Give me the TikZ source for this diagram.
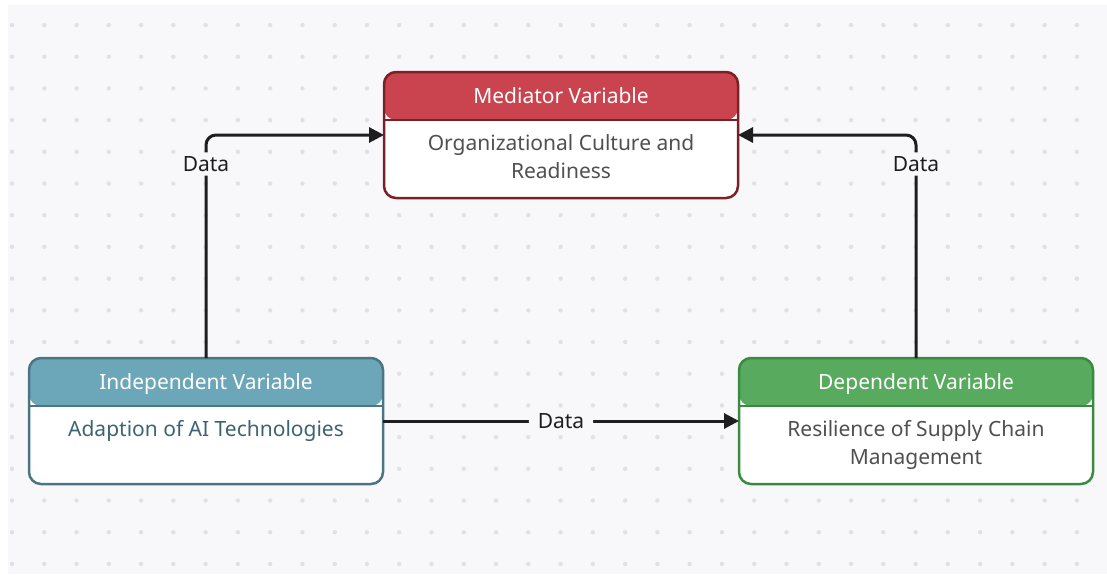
\documentclass[tikz,border=0pt]{standalone}
\usepackage{fontspec}
\setmainfont{Noto Sans}
\usetikzlibrary{arrows.meta}
\definecolor{bgcol}{HTML}{F8F8FA}
\definecolor{dotcol}{HTML}{E0E0E5}
\definecolor{medhead}{HTML}{C9444E}
\definecolor{medline}{HTML}{7B2027}
\definecolor{indhead}{HTML}{6CA6B9}
\definecolor{indline}{HTML}{4B7485}
\definecolor{indtext}{HTML}{3E6473}
\definecolor{dephead}{HTML}{58AA5F}
\definecolor{depline}{HTML}{3A8A40}
\definecolor{bodygray}{HTML}{505050}
\definecolor{linkcol}{HTML}{1E1E1E}
\begin{document}
\begin{tikzpicture}[x=1pt, y=-1pt, font=\fontsize{21}{28}\selectfont,
  varbox/.style 2 args={draw=#2, line width=2.5pt, fill=white, rounded corners=12pt,
    minimum width=354pt, minimum height=126pt, outer sep=0pt, inner sep=0pt,
    path picture={
      \fill[#1] (path picture bounding box.north west) rectangle
        ([yshift=-48pt]path picture bounding box.north east);
      \draw[#2, line width=2.5pt] ([yshift=-48pt]path picture bounding box.north west) --
        ([yshift=-48pt]path picture bounding box.north east);
    }},
  headtext/.style={text=white, inner sep=0pt, anchor=base},
  bodytext/.style={text=bodygray, inner sep=0pt, anchor=north, align=center},
  link/.style={draw=linkcol, line width=3pt, rounded corners=10pt,
    -{Triangle[length=15pt, width=15pt]}},
  datalabel/.style={fill=bgcol, text=linkcol, inner xsep=9pt, inner ysep=4pt}]

% background and dot grid
\useasboundingbox (0,0) rectangle (1107,574);
\fill[bgcol] (8,5) rectangle (1107,574);
\foreach \i in {0,...,33}
  \foreach \j in {0,...,17}
    \fill[dotcol] (12+32.27*\i, 25+31.7*\j) circle [radius=2.2];

% variable boxes
\node[varbox={medhead}{medline}] (med) at (561,135) {};
\node[varbox={indhead}{indline}] (ind) at (206,421) {};
\node[varbox={dephead}{depline}] (dep) at (916,421) {};

\node[headtext] (medtitle) at ([yshift=-31pt]med.north) {Mediator Variable};
\node[bodytext] (medbody) at ([yshift=-62pt]med.north) {Organizational Culture and\\Readiness};
\node[headtext] (indtitle) at ([yshift=-31pt]ind.north) {Independent Variable};
\node[bodytext, text=indtext] (indbody) at ([yshift=-62pt]ind.north) {Adaption of AI Technologies};
\node[headtext] (deptitle) at ([yshift=-31pt]dep.north) {Dependent Variable};
\node[bodytext] (depbody) at ([yshift=-62pt]dep.north) {Resilience of Supply Chain\\Management};

% connectors
\draw[link] (ind.north) |- (med.west) node[datalabel, pos=0.435] {Data};
\draw[link] (dep.north) |- (med.east) node[datalabel, pos=0.435] {Data};
\draw[link] (ind.east) -- (dep.west) node[datalabel, midway] {Data};
\end{tikzpicture}
\end{document}
